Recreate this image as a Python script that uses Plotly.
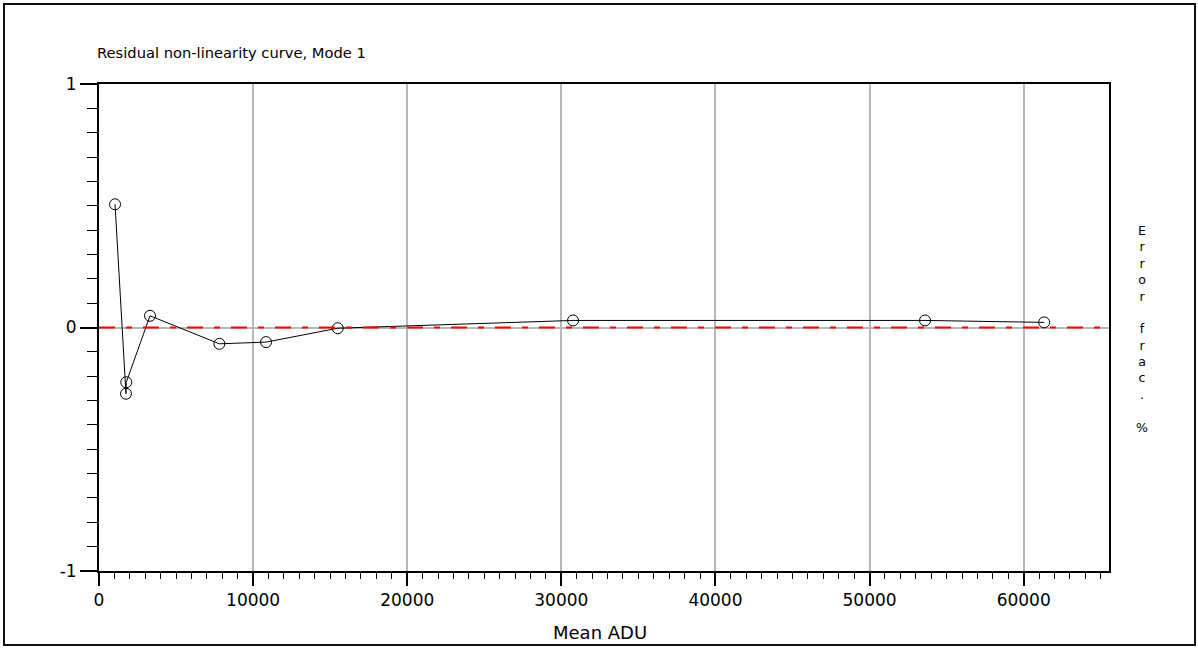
import plotly.graph_objects as go

# Residual non-linearity measurements (Mode 1)
mean_adu = [1040, 1750, 1770, 3310, 7810, 10840, 15490, 30760, 53600, 61330]
error_frac_pct = [0.506, -0.272, -0.225, 0.048, -0.067, -0.060, -0.003, 0.029, 0.029, 0.021]

x_ticks = [0, 10000, 20000, 30000, 40000, 50000, 60000]
y_ticks = [-1, 0, 1]

TITLE = "Residual non-linearity curve, Mode 1"
X_TITLE = "Mean ADU"
Y_TITLE = "Error frac. %"

W, H = 1198, 648
L, R, T, B = 99, 89, 84, 77
PW, PH = W - L - R, H - T - B
FONT = "DejaVu Sans, Verdana, sans-serif"


def px_to_paper(px, py):
    return (px - L) / PW, (H - B - py) / PH


fig = go.Figure()

fig.add_trace(go.Scatter(
    x=mean_adu, y=error_frac_pct,
    mode="lines+markers",
    line=dict(color="black", width=1),
    marker=dict(symbol="circle-open", size=11, color="black", line=dict(width=1, color="black")),
    showlegend=False,
))

fig.update_xaxes(
    range=[0, 65536],
    tickvals=x_ticks,
    ticktext=[str(v) for v in x_ticks],
    ticks="outside", ticklen=13, tickwidth=1.5, tickcolor="black",
    minor=dict(dtick=1000, tick0=0, ticks="outside", ticklen=6, tickwidth=1, tickcolor="black", showgrid=False),
    showgrid=True, gridcolor="#b8b8b8", gridwidth=1.5,
    showline=True, linecolor="black", linewidth=2, mirror=True,
    zeroline=False,
    tickfont=dict(family=FONT, size=17, color="black"),
)
fig.update_yaxes(
    range=[-1, 1],
    tickvals=y_ticks,
    ticktext=[str(v) for v in y_ticks],
    ticks="outside", ticklen=17, tickwidth=1.5, tickcolor="black",
    minor=dict(dtick=0.1, tick0=0, ticks="outside", ticklen=10, tickwidth=1, tickcolor="black", showgrid=False),
    showgrid=True, gridcolor="#b8b8b8", gridwidth=2,
    showline=True, linecolor="black", linewidth=2, mirror=True,
    zeroline=False,
    tickfont=dict(family=FONT, size=17, color="black"),
)

# red dash-dot reference line at zero error
fig.add_shape(type="line", xref="paper", yref="y", x0=0, x1=1, y0=0, y1=0,
              line=dict(color="#ff0000", width=2, dash="16px,11px,6px,11px"), layer="above")

# outer frame around the whole chart
bx0, by0 = px_to_paper(4, 645)
bx1, by1 = px_to_paper(1195, 4)
fig.add_shape(type="rect", xref="paper", yref="paper", x0=bx0, y0=by0, x1=bx1, y1=by1,
              line=dict(color="#101010", width=2), layer="above")

tx, ty = px_to_paper(95, 53)
xt_x, xt_y = px_to_paper(600, 632)
yt_x, yt_y = px_to_paper(1142, 329)
fig.add_annotation(text=TITLE, xref="paper", yref="paper", x=tx, y=ty,
                   xanchor="left", yanchor="middle", showarrow=False,
                   font=dict(family=FONT, size=14.7, color="black"))
fig.add_annotation(text=X_TITLE, xref="paper", yref="paper", x=xt_x, y=xt_y,
                   xanchor="center", yanchor="middle", showarrow=False,
                   font=dict(family=FONT, size=18, color="black"))
fig.add_annotation(text="<br>".join(ch if ch != " " else "&nbsp;" for ch in Y_TITLE),
                   xref="paper", yref="paper", x=yt_x, y=yt_y,
                   xanchor="center", yanchor="middle", showarrow=False, align="center",
                   font=dict(family=FONT, size=12.6, color="black"))

fig.update_layout(
    width=W, height=H,
    margin=dict(l=L, r=R, t=T, b=B, pad=0),
    paper_bgcolor="white", plot_bgcolor="white",
    showlegend=False,
)

fig.write_html("out.html")
